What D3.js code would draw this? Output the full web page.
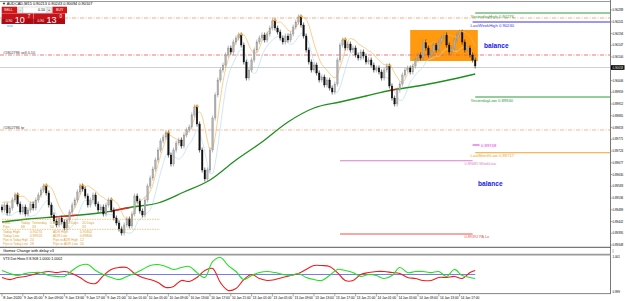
<!DOCTYPE html>
<html><head><meta charset="utf-8">
<script src="https://cdn.jsdelivr.net/npm/d3@7"></script>
<style>
body{margin:0;background:#fff;}
svg{display:block;font-family:"Liberation Sans",Arial,sans-serif;}
</style></head><body>
<div id="chart"></div>
<script>
// AUDCAD, candle closes (one per ~30 min)
const closes = [
 0.89488,0.89508,0.89476,0.89496,0.89528,0.89548,0.89512,0.89480,0.89500,0.89472,
 0.89488,0.89512,0.89496,0.89528,0.89548,0.89568,0.89584,0.89556,0.89508,0.89468,
 0.89444,0.89428,0.89456,0.89440,0.89416,0.89448,0.89480,0.89508,0.89528,0.89560,
 0.89584,0.89572,0.89544,0.89508,0.89528,0.89548,0.89512,0.89488,0.89500,0.89472,
 0.89508,0.89528,0.89488,0.89456,0.89436,0.89412,0.89396,0.89428,0.89452,0.89424,
 0.89472,0.89544,0.89524,0.89484,0.89468,0.89528,0.89584,0.89616,0.89652,0.89688,
 0.89728,0.89764,0.89780,0.89796,0.89708,0.89672,0.89728,0.89756,0.89768,0.89744,
 0.89788,0.89808,0.89820,0.89868,0.89900,0.89832,0.89728,0.89648,0.89612,0.89648,
 0.89728,0.89856,0.89948,0.90008,0.90048,0.90068,0.90108,0.90136,0.90120,0.90160,
 0.90176,0.90188,0.90148,0.90080,0.90016,0.90048,0.90088,0.90128,0.90160,0.90176,
 0.90188,0.90168,0.90192,0.90216,0.90244,0.90216,0.90200,0.90176,0.90160,0.90184,
 0.90168,0.90192,0.90220,0.90240,0.90260,0.90228,0.90184,0.90128,0.90080,0.90048,
 0.90068,0.90036,0.90008,0.90020,0.89988,0.90008,0.89976,0.89960,0.89992,0.90088,
 0.90148,0.90168,0.90136,0.90152,0.90128,0.90136,0.90108,0.90096,0.90120,0.90104,
 0.90080,0.90088,0.90068,0.90048,0.90056,0.90040,0.90016,0.90048,0.90064,0.89984,
 0.89936,0.89912,0.89968,0.89992,0.90028,0.90048,0.90056,0.90040,0.90064,0.90088,
 0.90108,0.90096,0.90160,0.90136,0.90108,0.90120,0.90148,0.90128,0.90160,0.90176,
 0.90188,0.90148,0.90120,0.90136,0.90168,0.90188,0.90200,0.90160,0.90128,0.90136,
 0.90108,0.90088,0.90064
];
const firstOpen = 0.89500;

// slow moving average (green), read at a few bars
const maIdx  = [0,10,20,30,40,50,60,70,80,90,100,110,120,130,140,150,160,170,182];
const maVals = [0.89440,0.89452,0.89460,0.89468,0.89480,0.89500,0.89516,0.89560,0.89608,0.89688,
                0.89760,0.89840,0.89896,0.89920,0.89944,0.89968,0.89984,0.90004,0.90032];
const maRedSpans = [[19,29],[42,49],[149,152]];

// oscillator lines (every 3 bars + last)
const oscIdx = [0,3,6,9,12,15,18,21,24,27,30,33,36,39,42,45,48,51,54,57,60,63,66,69,72,75,78,81,84,87,
                90,93,96,99,102,105,108,111,114,117,120,123,126,129,132,135,138,141,144,147,150,153,156,159,162,165,168,171,174,177,180,182];
const oscRed = [0.99983,0.99971,0.99983,0.99989,1.00000,1.00011,1.00017,1.00011,1.00017,1.00006,
                0.99983,0.99954,0.99949,0.99994,1.00029,1.00040,1.00040,1.00006,0.99983,0.99971,
                0.99954,0.99926,0.99932,0.99966,0.99960,0.99983,1.00023,1.00034,0.99954,0.99909,
                0.99920,0.99971,1.00000,0.99977,0.99966,0.99971,0.99983,0.99994,1.00006,1.00029,
                1.00051,1.00051,1.00046,1.00011,0.99966,0.99966,1.00000,1.00011,1.00017,1.00017,
                1.00011,1.00006,0.99983,0.99977,0.99966,0.99966,0.99983,0.99983,0.99989,0.99977,
                1.00011,1.00023];
const oscGreen = [1.00023,1.00006,0.99994,1.00006,1.00011,1.00011,0.99994,0.99989,0.99989,1.00023,
                1.00051,1.00057,1.00023,1.00000,0.99983,0.99971,0.99989,1.00006,1.00029,1.00051,
                1.00057,1.00046,1.00029,1.00040,1.00046,1.00011,0.99983,1.00074,1.00097,1.00051,
                1.00017,0.99971,0.99994,1.00011,1.00017,1.00011,1.00000,0.99994,1.00006,0.99983,
                0.99971,0.99966,0.99994,1.00029,1.00023,1.00011,0.99989,1.00000,0.99994,0.99977,
                0.99994,1.00040,1.00011,1.00017,1.00017,1.00011,1.00017,0.99989,1.00029,0.99994,
                0.99983,0.99977];
const oscTicks = [1.001, 0.999];

const priceTicks = [0.90288,0.90241,0.90194,0.90147,0.90100,0.90053,0.90006,0.89959,0.89912,0.89865,
                    0.89818,0.89771,0.89724,0.89677,0.89630,0.89583,0.89536,0.89489,0.89442,0.89395,0.89348];
const bidPrice = 0.90058;

const timeIdx = [0,8,16,24,32,40,48,56,64,72,80,88,96,104,112,120,128,136,144,152,160,168,176];
const timeLabels = ["8 Jan 2020","9 Jan 05:00","9 Jan 09:00","9 Jan 13:00","9 Jan 17:00","9 Jan 21:00",
  "10 Jan 01:00","10 Jan 05:00","10 Jan 09:00","10 Jan 13:00","10 Jan 17:00","10 Jan 21:00",
  "13 Jan 01:00","13 Jan 05:00","13 Jan 09:00","13 Jan 13:00","13 Jan 17:00","13 Jan 21:00",
  "14 Jan 01:00","14 Jan 05:00","14 Jan 09:00","14 Jan 13:00","14 Jan 17:00"];

// horizontal lines across the whole chart (orders)
const orderLines = [
  {price: 0.90256, label: "", color: "#f4956a"},
  {price: 0.90108, label: "#1802786 sell 0.10", color: "#e8575a"},
  {price: 0.89808, label: "#1802786 tp", color: "#f6a27c"}
];
// levels on the right side
const dayLevels = [
  {price: 0.90276, label: "YesterdayHigh  0.90276", color: "#2e9b3b", from: 182},
  {price: 0.90240, label: "LastWeekHigh  0.90240", color: "#3535e8", from: 181},
  {price: 0.89940, label: "YesterdayLow  0.89940", color: "#2e9b3b", from: 182},
  {price: 0.89717, label: "LastMonthLow  0.89717", color: "#eea22a", from: 182}
];
const leftLevels = [
  {price: 0.89685, label: "0.89685  WeekLow", color: "#d77fc8", from: 130, to: 181},
  {price: 0.89392, label: "0.89392  PA Lo", color: "#f25050", from: 130, to: 181}
];
const markPrice = 0.89748;
const boxRange = {from: 157, to: 183, top: 0.90208, bottom: 0.90084};

const infoRows1 = [["Time","Today","Yesterday","5 Days","10 Days","20 Days"],["Pips","68","33","54","61","33"]];
const infoRows2 = [["Today High","0.90274","ADR High","0.90302"],["Today Low","0.89923","ADR Low","0.89806"],
                   ["Pips to Today High","24","Pips to ADR High","12"],["Pips to Today Low","28","Pips to ADR Low","20"]];

const W = 625, H = 301, AX = 610.5;
const svg = d3.select('#chart').append('svg').attr('width', W).attr('height', H);
const x = d3.scaleLinear().domain([0, 182]).range([2, 475.2]);
const y = d3.scaleLinear().domain([0.90320, 0.89340]).range([2, 247]);
const yo = d3.scaleLinear().domain([0.999, 1.001]).range([292, 257]);
const FS = 4.2;

// squeeze a text into a given width if it is wider
function fit(sel, w) {
  const n = sel.node();
  if (n.getComputedTextLength() > w) sel.attr('textLength', w).attr('lengthAdjust', 'spacingAndGlyphs');
  return sel;
}

svg.append('clipPath').attr('id', 'mainclip').append('rect').attr('x', 0).attr('y', 2).attr('width', AX).attr('height', 245);
const main = svg.append('g').attr('clip-path', 'url(#mainclip)');

// balance box
main.append('rect')
  .attr('x', x(boxRange.from)).attr('y', y(boxRange.top))
  .attr('width', x(boxRange.to) - x(boxRange.from)).attr('height', y(boxRange.bottom) - y(boxRange.top))
  .attr('fill', '#ff9a10');

// bid line
main.append('line').attr('x1', 0).attr('x2', AX).attr('y1', y(bidPrice)).attr('y2', y(bidPrice))
  .attr('stroke', '#c4c4c4').attr('stroke-width', 0.8);

orderLines.forEach(d => {
  main.append('line').attr('x1', 0).attr('x2', AX).attr('y1', y(d.price)).attr('y2', y(d.price))
    .attr('stroke', d.color).attr('stroke-width', 0.8).attr('stroke-dasharray', '4,1.5,1,1.5');
  if (d.label) main.append('text').attr('x', 3).attr('y', y(d.price) - 1.3).attr('font-size', 3.8).attr('fill', '#444').text(d.label);
});

dayLevels.forEach(d => {
  main.append('line').attr('x1', x(d.from)).attr('x2', AX).attr('y1', y(d.price)).attr('y2', y(d.price))
    .attr('stroke', d.color).attr('stroke-width', 1);
  main.append('text').attr('x', x(181) - 2).attr('y', y(d.price) + 4.6).attr('font-size', FS).attr('fill', d.color).text(d.label);
});
leftLevels.forEach(d => {
  main.append('line').attr('x1', x(d.from)).attr('x2', x(d.to)).attr('y1', y(d.price)).attr('y2', y(d.price))
    .attr('stroke', d.color).attr('stroke-width', 1.2);
  main.append('text').attr('x', x(d.to) - 8).attr('y', y(d.price) + 4.4).attr('font-size', 3.8).attr('fill', d.color).text(d.label);
});
main.append('line').attr('x1', x(181)).attr('x2', x(181) + 7).attr('y1', y(markPrice)).attr('y2', y(markPrice))
  .attr('stroke', '#e030d8').attr('stroke-width', 1.2);
main.append('text').attr('x', x(181) + 8.5).attr('y', y(markPrice) + 1.6).attr('font-size', FS).attr('fill', '#e030d8').text(markPrice.toFixed(5));

// candles
const bars = closes.map((c, i) => {
  const o = i ? closes[i - 1] : firstOpen;
  return {i, o, c, h: Math.max(o, c) + 0.0001, l: Math.min(o, c) - 0.0001};
});

// orange / light blue trailing lines
const trail = (key, n, off) => bars.map((b, i) => {
  const s = bars.slice(Math.max(0, i - n + 1), i + 1);
  return [b.i, d3.mean(s, d => d[key]) + off];
});
const lineGen = d3.line().x(d => x(d[0])).y(d => y(d[1])).curve(d3.curveMonotoneX);
main.append('path').attr('d', lineGen(trail('l', 5, -0.00006))).attr('fill', 'none').attr('stroke', '#b7dcf2').attr('stroke-width', 0.7);
main.append('path').attr('d', lineGen(trail('h', 5, 0.00006))).attr('fill', 'none').attr('stroke', '#f6b860').attr('stroke-width', 0.7);

// green MA with red spans
const maPts = maIdx.map((d, k) => [d, maVals[k]]);
main.append('path').attr('d', lineGen(maPts)).attr('fill', 'none').attr('stroke', '#1f8f1f').attr('stroke-width', 1.3);
const maAt = i => d3.scaleLinear().domain(maIdx).range(maVals)(i);
maRedSpans.forEach(s => {
  const pts = d3.range(s[0], s[1] + 1).map(i => [i, maAt(i)]);
  main.append('path').attr('d', lineGen(pts)).attr('fill', 'none').attr('stroke', '#f02020').attr('stroke-width', 1.3);
});

const cg = main.append('g');
bars.forEach(b => {
  const up = b.c >= b.o;
  const col = up ? '#8a8a8a' : '#111';
  cg.append('line').attr('x1', x(b.i)).attr('x2', x(b.i)).attr('y1', y(b.h)).attr('y2', y(b.l))
    .attr('stroke', col).attr('stroke-width', 0.6);
  cg.append('rect').attr('x', x(b.i) - 0.8).attr('width', 1.6)
    .attr('y', y(Math.max(b.o, b.c))).attr('height', Math.max(0.6, Math.abs(y(b.o) - y(b.c))))
    .attr('fill', up ? '#b0b0b0' : '#111').attr('stroke', col).attr('stroke-width', 0.3);
});

// swing high dots
bars.forEach((b, i) => {
  const win = bars.slice(Math.max(0, i - 5), i + 6);
  if (i > 2 && i < 180 && b.h === d3.max(win, d => d.h)) {
    main.append('circle').attr('cx', x(b.i) + 0.8).attr('cy', y(b.h) + 2).attr('r', 1.1).attr('fill', '#f5a623');
  }
});

// balance labels
main.append('text').attr('x', 484).attr('y', 47.5).attr('font-size', 6.6).attr('font-weight', 'bold').attr('fill', '#1a1ae6').text('balance');
main.append('text').attr('x', 478).attr('y', 185.5).attr('font-size', 6.6).attr('font-weight', 'bold').attr('fill', '#1a1ae6').text('balance');

// info table (bottom-left)
const gold = '#d9a23a';
[219.3, 229.3].forEach(yy => main.append('line').attr('x1', 2).attr('x2', 160).attr('y1', yy).attr('y2', yy)
  .attr('stroke', gold).attr('stroke-width', 0.6).attr('stroke-dasharray', '1.5,1'));
const c1 = [3, 21, 32, 50, 66, 82];
infoRows1.forEach((r, j) => r.forEach((t, k) => fit(main.append('text').attr('x', c1[k]).attr('y', 223.6 + j * 3.9)
  .attr('font-size', 3.4).attr('fill', gold).text(t), (c1[k + 1] || 100) - c1[k] - 1.5)));
const c2 = [3, 30, 53, 80];
infoRows2.forEach((r, j) => r.forEach((t, k) => fit(main.append('text').attr('x', c2[k]).attr('y', 233.2 + j * 3.9)
  .attr('font-size', 3.4).attr('fill', gold).text(t), (c2[k + 1] || 100) - c2[k] - 2)));

// top-left header and one-click trade panel
svg.append('text').attr('x', 2).attr('y', 5.3).attr('font-size', 3.9).attr('fill', '#000')
  .text('\u25BC AUDCAD,M15  0.90213 0.90243 0.90094 0.90107');
const panel = svg.append('g');
panel.append('rect').attr('x', 1.7).attr('y', 6.7).attr('width', 15.5).attr('height', 6.6).attr('fill', '#d01818');
panel.append('text').attr('x', 4).attr('y', 11.2).attr('font-size', 3.6).attr('fill', '#fff').text('SELL');
panel.append('rect').attr('x', 18).attr('y', 7).attr('width', 5).attr('height', 6).attr('fill', '#e8e8e8').attr('stroke', '#aaa').attr('stroke-width', 0.3);
panel.append('text').attr('x', 19.6).attr('y', 11.3).attr('font-size', 3.8).attr('fill', '#000').text('-');
panel.append('rect').attr('x', 23).attr('y', 7).attr('width', 24).attr('height', 6).attr('fill', '#fff').attr('stroke', '#aaa').attr('stroke-width', 0.3);
panel.append('text').attr('x', 38).attr('y', 11.3).attr('font-size', 3.6).attr('fill', '#000').text('0.10');
panel.append('rect').attr('x', 47).attr('y', 7).attr('width', 5).attr('height', 6).attr('fill', '#e8e8e8').attr('stroke', '#aaa').attr('stroke-width', 0.3);
panel.append('text').attr('x', 48).attr('y', 11.3).attr('font-size', 3.8).attr('fill', '#000').text('+');
panel.append('rect').attr('x', 52.5).attr('y', 6.7).attr('width', 14.5).attr('height', 6.6).attr('fill', '#d01818');
panel.append('text').attr('x', 56).attr('y', 11.2).attr('font-size', 3.6).attr('fill', '#fff').text('BUY');
[[1.7, '10', '7'], [33.5, '13', '0']].forEach(([bx, big, sup]) => {
  panel.append('rect').attr('x', bx).attr('y', 13.4).attr('width', 31.5).attr('height', 10.6).attr('fill', '#c8121a');
  panel.append('rect').attr('x', bx).attr('y', 19).attr('width', 31.5).attr('height', 5).attr('fill', '#a80d14');
  panel.append('text').attr('x', bx + 4).attr('y', 21.8).attr('font-size', 3.4).attr('fill', '#fff').text('0.90');
  panel.append('text').attr('x', bx + 13).attr('y', 23.2).attr('font-size', 9).attr('fill', '#fff').text(big);
  panel.append('text').attr('x', bx + 26).attr('y', 17.8).attr('font-size', 4.5).attr('fill', '#fff').text(sup);
});
panel.append('line').attr('x1', 7).attr('x2', 13).attr('y1', 26).attr('y2', 26).attr('stroke', '#5a9ee0').attr('stroke-width', 0.8);

// panel frames
svg.append('line').attr('x1', 0).attr('x2', AX).attr('y1', 1.5).attr('y2', 1.5).attr('stroke', '#999').attr('stroke-width', 1);
svg.append('line').attr('x1', AX).attr('x2', AX).attr('y1', 0).attr('y2', 294).attr('stroke', '#777').attr('stroke-width', 1);
svg.append('line').attr('x1', 0).attr('x2', AX).attr('y1', 247.3).attr('y2', 247.3).attr('stroke', '#444').attr('stroke-width', 0.9);
svg.append('line').attr('x1', 0).attr('x2', AX).attr('y1', 254.6).attr('y2', 254.6).attr('stroke', '#999').attr('stroke-width', 1.6);
svg.append('line').attr('x1', 0).attr('x2', AX).attr('y1', 293.6).attr('y2', 293.6).attr('stroke', '#777').attr('stroke-width', 0.9);
svg.append('text').attr('x', 3).attr('y', 252.2).attr('font-size', 3.9).attr('fill', '#000').text('Gomez Change with delay v3');
svg.append('text').attr('x', 3).attr('y', 259.6).attr('font-size', 3.6).attr('fill', '#000').text('VT3 Dot Histo II 8.908 1.0000 1.0002');

// price axis
const AFS = 3.0;
priceTicks.forEach(p => {
  svg.append('line').attr('x1', AX).attr('x2', AX + 1.6).attr('y1', y(p)).attr('y2', y(p)).attr('stroke', '#777').attr('stroke-width', 0.6);
  svg.append('text').attr('x', AX + 1.9).attr('y', y(p) + 1.1).attr('font-size', AFS).attr('fill', '#000').text(p.toFixed(5));
});
svg.append('rect').attr('x', AX + 0.5).attr('y', y(bidPrice) - 2.3).attr('width', 13.5).attr('height', 4.6).attr('fill', '#000');
svg.append('text').attr('x', AX + 1.9).attr('y', y(bidPrice) + 1.1).attr('font-size', AFS).attr('fill', '#fff').text(bidPrice.toFixed(5));
svg.append('text').attr('x', AX + 2).attr('y', 251.5).attr('font-size', 3.6).attr('fill', '#000').text('|');

// oscillator
const og = svg.append('g');
og.append('line').attr('x1', 0).attr('x2', x(182)).attr('y1', yo(1)).attr('y2', yo(1)).attr('stroke', '#6a6aee').attr('stroke-width', 0.9);
const oscLine = d3.line().x(d => x(d[0])).y(d => yo(d[1])).curve(d3.curveCatmullRom);
og.append('path').attr('d', oscLine(oscIdx.map((d, k) => [d, oscRed[k]]))).attr('fill', 'none').attr('stroke', '#ee1c1c').attr('stroke-width', 1.1);
og.append('path').attr('d', oscLine(oscIdx.map((d, k) => [d, oscGreen[k]]))).attr('fill', 'none').attr('stroke', '#22e022').attr('stroke-width', 1.1);
oscTicks.forEach(v => svg.append('text').attr('x', AX + 1.9).attr('y', yo(v) + 1.1).attr('font-size', AFS).attr('fill', '#000').text(v.toFixed(3)));

// time axis
timeIdx.forEach((t, k) => {
  svg.append('line').attr('x1', x(t)).attr('x2', x(t)).attr('y1', 293.6).attr('y2', 296.5).attr('stroke', '#777').attr('stroke-width', 0.6);
  fit(svg.append('text').attr('x', x(t) + 1.2).attr('y', 299.3).attr('font-size', 3.8).attr('fill', '#000').text(timeLabels[k]), 18.5);
});
</script>
</body></html>
